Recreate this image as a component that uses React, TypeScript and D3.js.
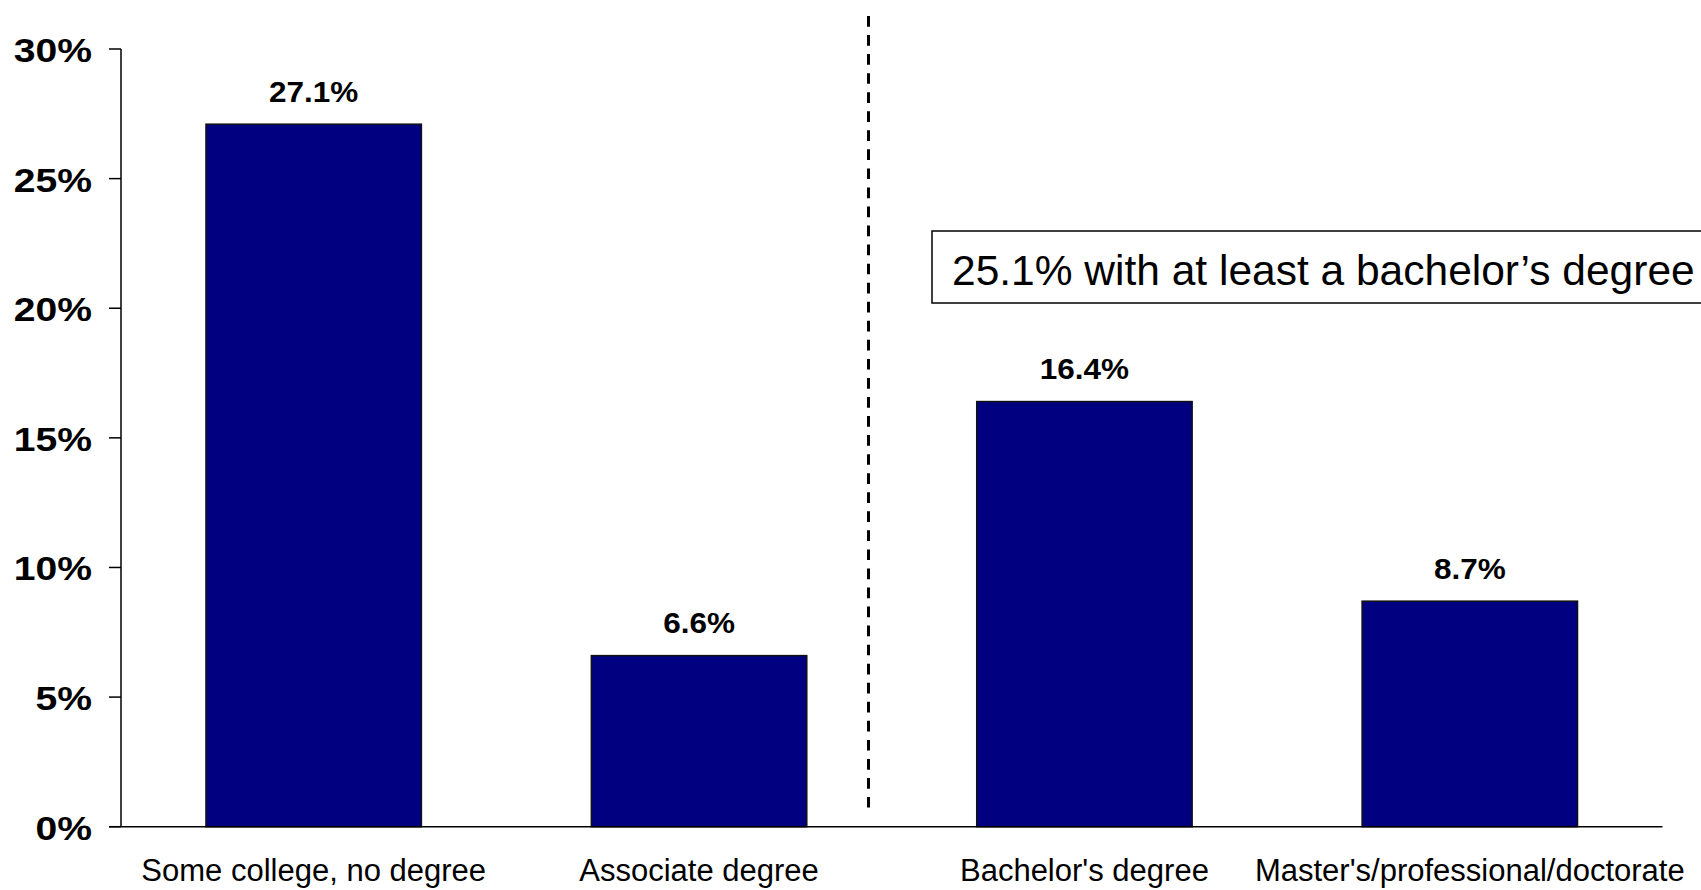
import React from "react";
import * as d3 from "d3";

const categories = [
  "Some college, no degree",
  "Associate degree",
  "Bachelor's degree",
  "Master's/professional/doctorate",
];
const values = [27.1, 6.6, 16.4, 8.7];
const yTicks = [0, 5, 10, 15, 20, 25, 30];
const annotation = "25.1% with at least a bachelor’s degree";

const W = 1701;
const H = 890;
const FONT = "'Liberation Sans', Arial, Helvetica, sans-serif";

export default function App() {
  const y = d3.scaleLinear().domain([0, 30]).range([826.7, 49]);
  const x = d3
    .scaleBand<string>()
    .domain(categories)
    .range([121, 1662.5])
    .paddingInner(0.441)
    .paddingOuter(0.2205);
  const bw = x.bandwidth();
  const dividerX = 868.5;

  return (
    <svg
      width={W}
      height={H}
      style={{ position: "absolute", left: 0, top: 0, background: "#fff" }}
      fontFamily={FONT}
    >
      <rect x={0} y={0} width={W} height={H} fill="#fff" />
      {/* bars */}
      {categories.map((c, i) => (
        <rect
          key={c}
          x={x(c)}
          y={y(values[i])}
          width={bw}
          height={y(0) - y(values[i])}
          fill="#000080"
          stroke="#111"
          strokeWidth={1.5}
        />
      ))}
      {/* value labels */}
      {categories.map((c, i) => (
        <text
          key={c + "-v"}
          transform={`translate(${x(c)! + bw / 2},${y(values[i]) - 22.5}) scale(1.05,1)`}
          textAnchor="middle"
          fontWeight="bold"
          fontSize={30}
          fill="#000"
        >
          {values[i].toFixed(1)}%
        </text>
      ))}
      {/* y axis */}
      <line x1={121} x2={121} y1={y(30)} y2={y(0)} stroke="#000" strokeWidth={1.5} />
      {yTicks.map((t) => (
        <g key={t}>
          <line x1={109} x2={121} y1={y(t)} y2={y(t)} stroke="#000" strokeWidth={1.5} />
          <text
            transform={`translate(92,${y(t) + 13}) scale(1.15,1)`}
            textAnchor="end"
            fontWeight="bold"
            fontSize={34}
            fill="#000"
          >
            {t}%
          </text>
        </g>
      ))}
      {/* x axis */}
      <line x1={109} x2={1662.5} y1={y(0)} y2={y(0)} stroke="#000" strokeWidth={1.5} />
      {categories.map((c) => (
        <text
          key={c + "-x"}
          x={x(c)! + bw / 2}
          y={881}
          textAnchor="middle"
          fontSize={31}
          fill="#000"
        >
          {c}
        </text>
      ))}
      {/* divider */}
      <line
        x1={dividerX}
        x2={dividerX}
        y1={16}
        y2={807.5}
        stroke="#000"
        strokeWidth={3}
        strokeDasharray="10.7 8.35"
      />
      {/* annotation box */}
      <rect x={932} y={231} width={800} height={72} fill="#fff" stroke="#000" strokeWidth={1.5} />
      <text x={952} y={285} fontSize={42.5} fill="#000">
        {annotation}
      </text>
    </svg>
  );
}
